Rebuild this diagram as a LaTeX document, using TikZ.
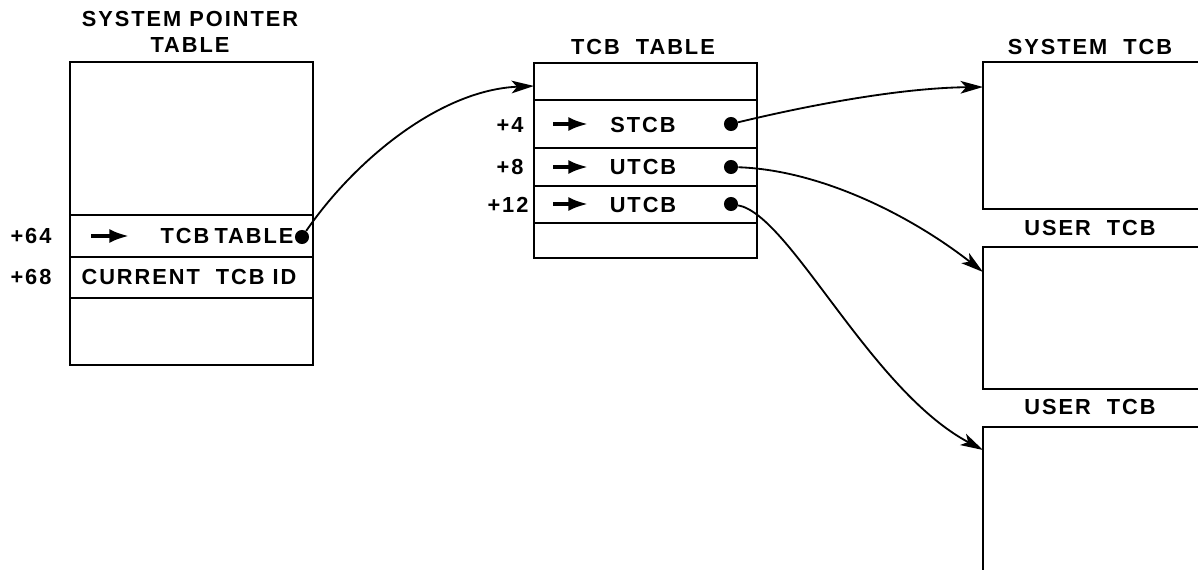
\documentclass[tikz,border=0pt]{standalone}
\usepackage{fontspec}
\setmainfont{Liberation Sans}[LetterSpace=9]
\usetikzlibrary{arrows.meta}

\begin{document}
\begin{tikzpicture}[x=0.025cm,y=-0.025cm,>={Stealth[length=16pt,width=9pt,inset=4pt]},
    box/.style={line width=1.8pt},
    lbl/.style={font=\bfseries\fontsize{15.5}{18.5}\selectfont,inner sep=0pt},
    dot/.style={circle,fill,inner sep=0pt,minimum size=10pt},
    link/.style={->,line width=1.3pt},
    ptr/.style={-{Latex[length=14pt,width=10pt]},line width=2.5pt}]
    \clip (0,0) rectangle (1198,570);

    \draw[box] (70,62) rectangle (313,365);
    \draw[box] (70,215) -- (313,215) (70,257) -- (313,257) (70,298) -- (313,298);
    \node[lbl,align=center] (spt) at (190,32) {SYSTEM POINTER\\TABLE};
    \node[lbl] (o64) at (31,236) {+64};
    \node[lbl] (o68) at (31,277) {+68};
    \draw[ptr] (91,236) -- (129,236);
    \node[lbl] (r64) at (227,236) {TCB\hspace{-2pt} TABLE};
    \node[lbl] (r68) at (189,277) {CURRENT\ \ TCB ID};
    \node[dot] (p64) at (302,237) {};

    \draw[box] (534,63) rectangle (757,258);
    \draw[box] (534,100) -- (757,100) (534,148) -- (757,148) (534,186) -- (757,186) (534,223) -- (757,223);
    \node[lbl] (tt) at (643,47) {TCB\ \ TABLE};
    \node[lbl] (o4) at (510,125) {+4};
    \node[lbl] (o8) at (510,167) {+8};
    \node[lbl] (o12) at (508,205) {+12};
    \draw[ptr] (553,124) -- (588,124);
    \draw[ptr] (553,167) -- (588,167);
    \draw[ptr] (553,204) -- (588,204);
    \node[lbl] (r4) at (643,125) {STCB};
    \node[lbl] (r8) at (643,167) {UTCB};
    \node[lbl] (r12) at (643,205) {UTCB};
    \node[dot] (p4) at (731,124) {};
    \node[dot] (p8) at (731,167) {};
    \node[dot] (p12) at (731,204) {};

    \draw[box] (1210,62) -- (983,62) -- (983,209) -- (1210,209);
    \draw[box] (1210,247) -- (983,247) -- (983,389) -- (1210,389);
    \draw[box] (1210,427) -- (983,427) -- (983,580);
    \node[lbl] (st) at (1090,47) {SYSTEM\ \ TCB};
    \node[lbl] (ut1) at (1090,228) {USER\ \ TCB};
    \node[lbl] (ut2) at (1090,407) {USER\ \ TCB};

    \coordinate (t0) at (534,86);
    \coordinate (t1) at (983,87);
    \coordinate (t2) at (983,272);
    \coordinate (t3) at (983,450);
    \draw[link] (p64) .. controls (355,160) and (440,90) .. (t0);
    \draw[link] (p4) .. controls (810,105) and (900,88) .. (t1);
    \draw[link] (p8) .. controls (820,170) and (910,215) .. (t2);
    \draw[link] (p12) .. controls (790,215) and (870,390) .. (t3);
\end{tikzpicture}
\end{document}
